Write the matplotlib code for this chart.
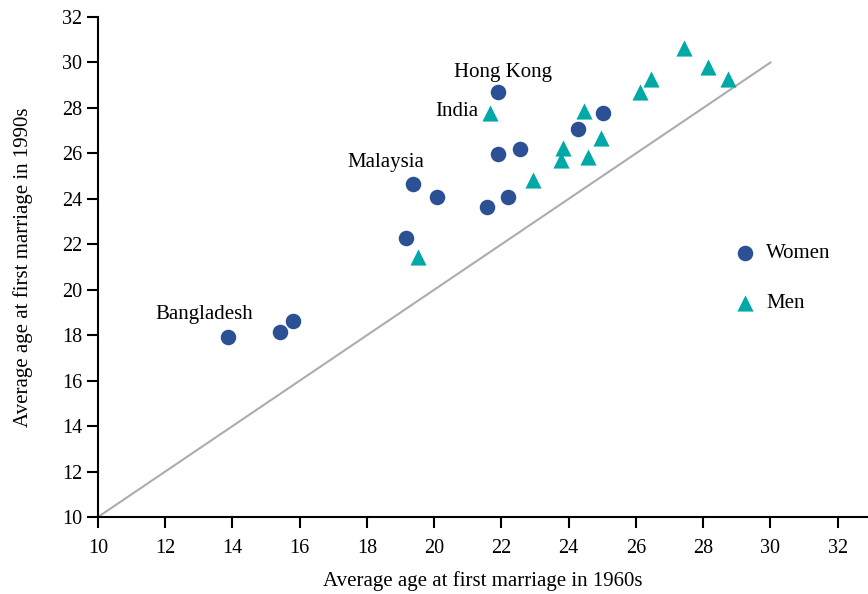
import numpy as np
import matplotlib.pyplot as plt

plt.rcParams['font.family'] = ['Liberation Serif', 'DejaVu Serif']

# average age at first marriage, 1960s vs 1990s
women_1960s = [13.86, 15.4, 15.8, 19.16, 19.36, 20.08, 21.56, 21.89, 21.89, 22.19, 22.54, 24.27, 25.01]
women_1990s = [17.9, 18.15, 18.62, 22.27, 24.65, 24.08, 23.64, 28.7, 25.97, 24.08, 26.19, 27.07, 27.77]

men_1960s = [19.52, 21.65, 22.95, 23.77, 23.83, 24.57, 24.45, 24.95, 26.12, 26.45, 27.43, 28.13, 28.75]
men_1990s = [21.43, 27.76, 24.83, 25.71, 26.22, 25.85, 27.88, 26.66, 28.7, 29.26, 30.65, 29.81, 29.26]

labels = ["Bangladesh", "Malaysia", "Hong Kong", "India"]
label_pos = [(13.17, 18.9), (18.56, 25.62), (22.04, 29.55), (21.3, 27.82)]
label_ha = ["center", "center", "center", "right"]

diag = [10, 30]

fig = plt.figure(figsize=(8.68, 5.94), dpi=100)
ax = fig.add_axes([98/868, 1-517/594, 1-98/868, 500/594])

ax.plot(diag, diag, color='#a9adb1', lw=1.5, zorder=1)
ax.scatter(women_1960s, women_1990s, s=125, marker='o', color='#2b5194', label='Women', zorder=3, linewidths=0)
ax.scatter(men_1960s, men_1990s, s=135, marker='^', color='#00a9a6', label='Men', zorder=3, linewidths=0)

for lab, pos, ha in zip(labels, label_pos, label_ha):
    ax.text(pos[0], pos[1], lab, ha=ha, va='center', fontsize=15)

ax.set_xlim(10, 32.9)
ax.set_ylim(10, 32)
ax.set_xticks(np.arange(10, 33, 2))
ax.set_yticks(np.arange(10, 33, 2))
ax.tick_params(labelsize=14.5, width=1.5, length=8, direction='out')
ax.tick_params(axis='x', pad=8)
for s in ['top', 'right']:
    ax.spines[s].set_visible(False)
for s in ['left', 'bottom']:
    ax.spines[s].set_linewidth(1.5)

ax.set_xlabel("Average age at first marriage in 1960s", fontsize=15, labelpad=9)
ax.set_ylabel("Average age at first marriage in 1990s", fontsize=15, labelpad=21)

ax.legend(loc='center left', bbox_to_anchor=(0.789, 0.477), frameon=False, fontsize=15,
          labelspacing=1.45, handletextpad=0.0)

fig.savefig('out.png', dpi=100)
